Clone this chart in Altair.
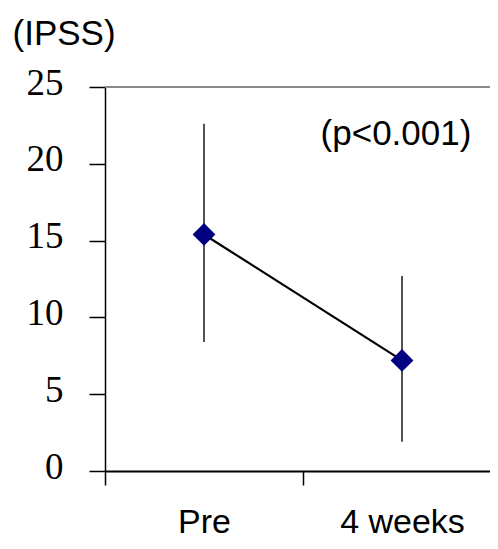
import altair as alt
import pandas as pd

# ---- data ----
categories = ["Pre", "4 weeks"]
means = [15.4, 7.2]
lower = [8.4, 1.9]
upper = [22.6, 12.7]
y_ticks = [0, 5, 10, 15, 20, 25]
y_title = "(IPSS)"
p_label = ["(p<0.001)"]
y_top = [25]

df = pd.DataFrame({"time": categories, "mean": means, "lo": lower, "hi": upper})

W, H = 385, 384
SANS = "Liberation Sans"
SERIF = "Liberation Serif"

# band range runs past the visible area, as in the cropped reference
x_scale = alt.Scale(paddingInner=0, paddingOuter=0, range=[0, 396])
x_axis = alt.Axis(
    title=None, tickBand="extent", labelAngle=0, labelFont=SANS, labelFontSize=34,
    labelColor="black", labelBaseline="alphabetic", labelPadding=47,
    tickSize=14, tickColor="black", tickWidth=1.5,
    domainColor="black", domainWidth=2, grid=False,
)
y_scale = alt.Scale(domain=[0, 25], nice=False, zero=True)
y_axis = alt.Axis(
    values=y_ticks, title=y_title, titleAngle=0, titleX=-93, titleY=-54,
    titleAlign="left", titleBaseline="middle", titleFont=SANS, titleFontSize=35,
    titleFontWeight="normal", titleColor="black",
    labelFont=SERIF, labelFontSize=37, labelColor="black", labelPadding=26,
    labelBaseline="middle", labelOffset=-4,
    tickSize=16, tickColor="black", tickWidth=1.5,
    domainColor="black", domainWidth=1.5, grid=False,
)

X = alt.X("time:N", sort=categories, scale=x_scale, axis=x_axis)

base = alt.Chart(df)

bars = base.mark_rule(color="#1a1a1a", strokeWidth=1.5).encode(
    x=X,
    y=alt.Y("lo:Q", scale=y_scale, axis=y_axis),
    y2="hi:Q",
)
line = base.mark_line(color="black", strokeWidth=2.2).encode(
    x=X, y=alt.Y("mean:Q", scale=y_scale, axis=y_axis)
)
points = base.mark_point(shape="diamond", filled=True, size=520, color="#000080", opacity=1).encode(
    x=X, y=alt.Y("mean:Q", scale=y_scale, axis=y_axis)
)
top_border = alt.Chart(pd.DataFrame({"top": y_top})).mark_rule(color="#8a8a8a", strokeWidth=2).encode(
    y=alt.Y("top:Q", scale=y_scale, axis=y_axis), x=alt.value(0), x2=alt.value(W)
)
ptext = alt.Chart(pd.DataFrame({"label": p_label})).mark_text(
    font=SANS, fontSize=35, align="center", baseline="alphabetic", color="black"
).encode(text="label:N", x=alt.value(291), y=alt.value(58))

chart = alt.layer(top_border, bars, line, points, ptext).properties(
    width=W, height=H,
    autosize=alt.AutoSizeParams(type="none"),
    padding={"left": 97, "top": 79, "right": 0, "bottom": 68},
).configure_view(stroke=None).configure(font=SANS, background="white")

chart.save("out.html", embed_options={"renderer": "svg", "actions": False})
